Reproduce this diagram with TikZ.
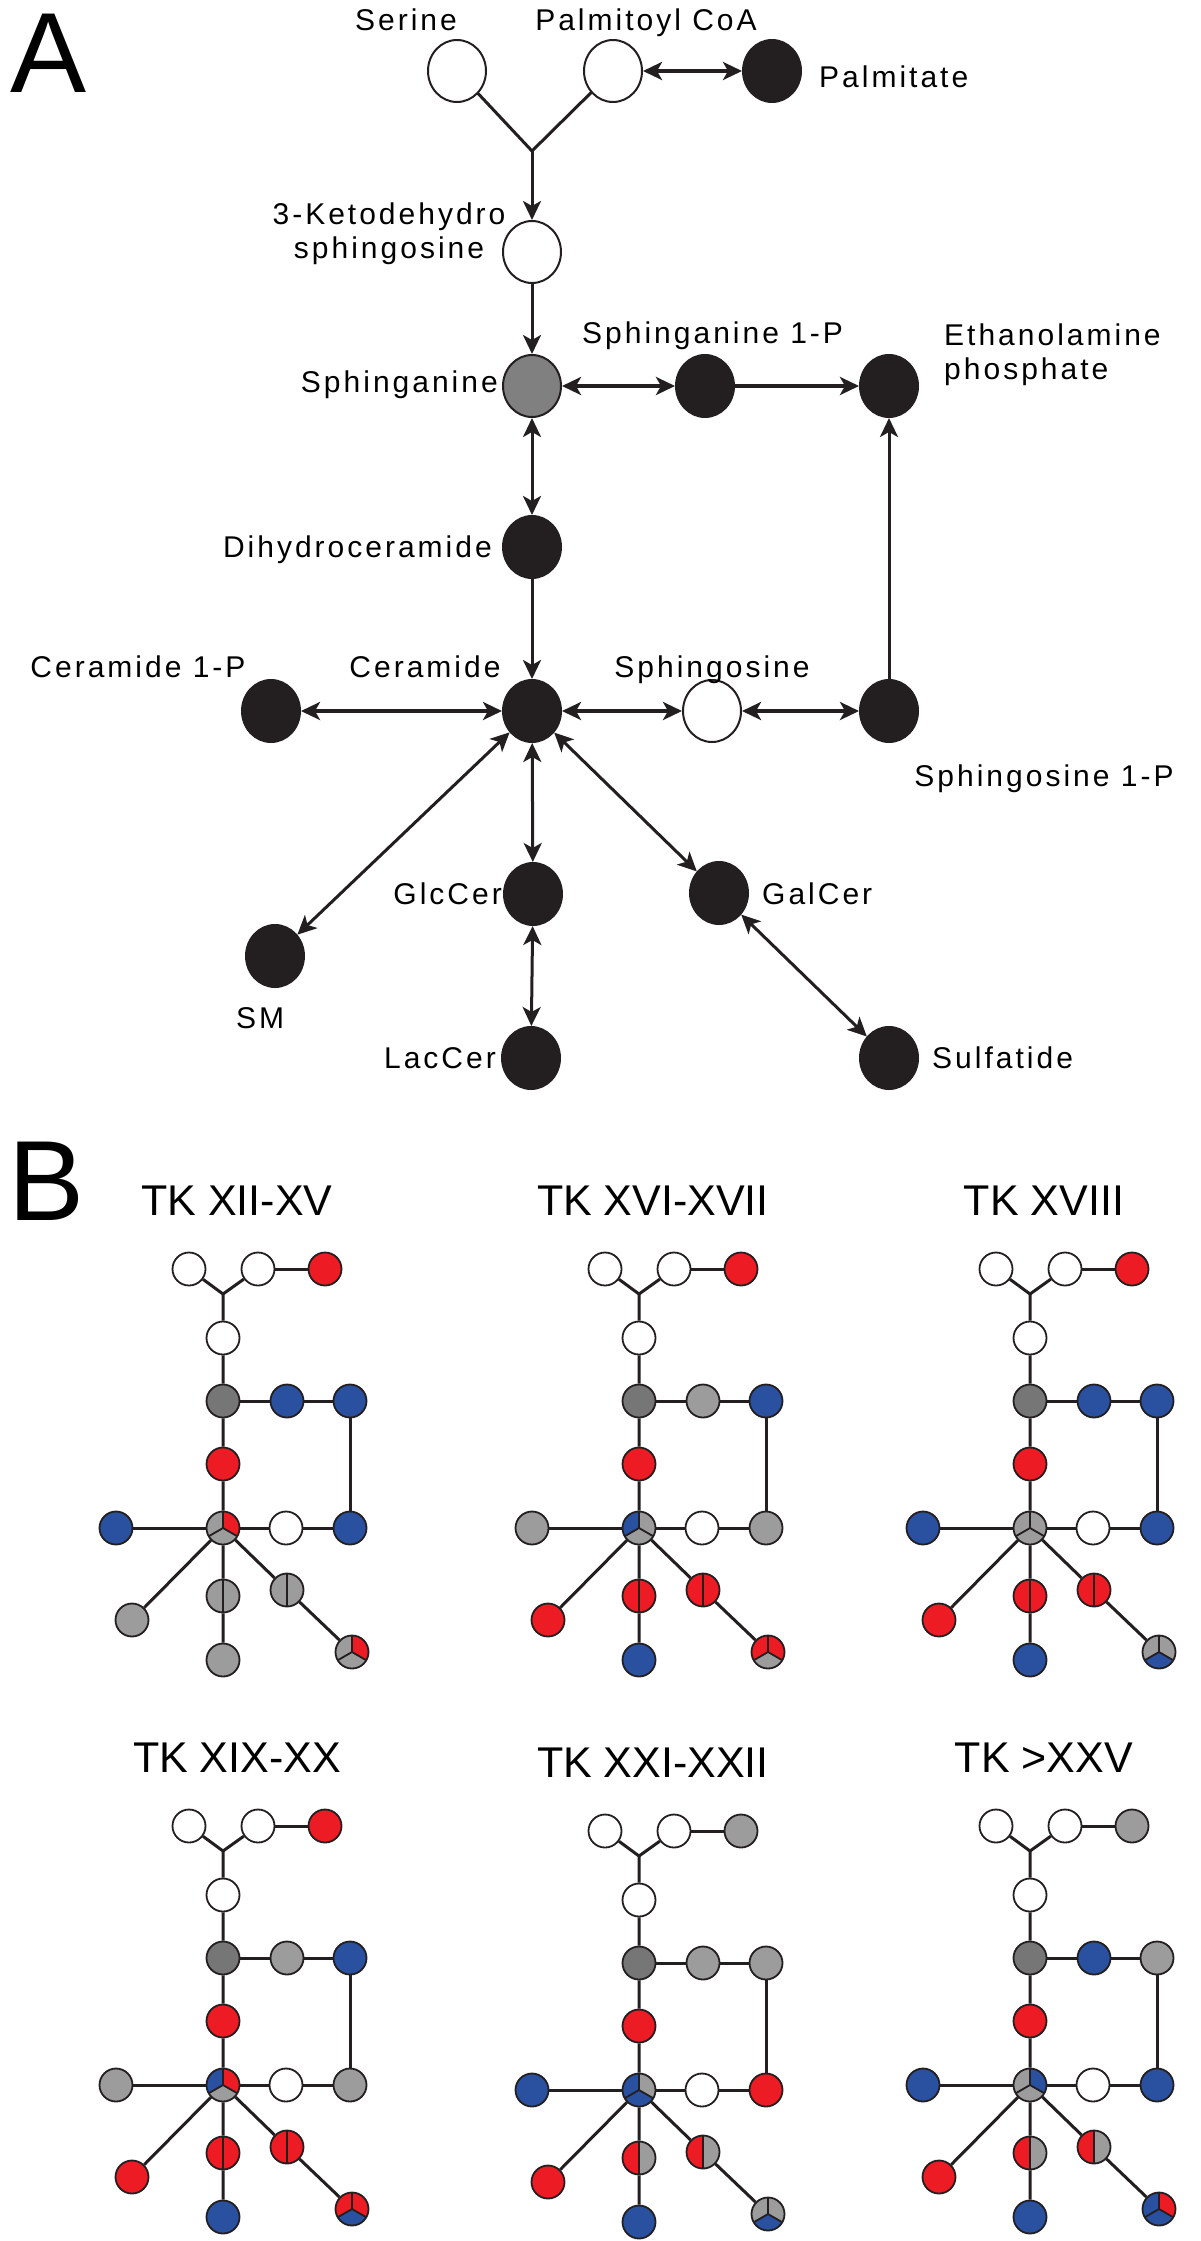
\documentclass[tikz,border=0pt]{standalone}
\usepackage{fontspec}
\setmainfont{Liberation Sans}
\newfontfamily\labelfont[LetterSpace=10]{Liberation Sans}
\usetikzlibrary{arrows.meta,shapes.geometric,backgrounds,positioning}
\definecolor{ink}{RGB}{35,31,32}
\definecolor{midgray}{RGB}{128,128,128}
\definecolor{rd}{RGB}{237,28,36}
\definecolor{bl}{RGB}{42,80,160}
\definecolor{gy}{RGB}{156,156,156}
\definecolor{dg}{RGB}{118,118,118}
\definecolor{wt}{RGB}{255,255,255}

\begin{document}
\begin{tikzpicture}[line cap=round,line join=round,>={Stealth[length=19pt,width=18pt,inset=5pt]},x=1pt,y=-1pt,
    met/.style={ellipse,draw=ink,line width=2pt,minimum width=58pt,minimum height=62pt,inner sep=0pt},
    lab/.style={font=\labelfont\fontsize{30}{34}\selectfont,inner sep=0pt},
    rxn/.style={ink,line width=3pt},
    rxnbold/.style={ink,line width=3.6pt},
    ball/.style={circle,draw=ink,line width=1.8pt,minimum size=33pt,inner sep=0pt},
    spot/.style={ball,fill=#1},
    tri/.style n args={3}{fill=#3,path picture={
        \begin{scope}[shift={(path picture bounding box.center)}]
        \fill[#1] (0pt,0pt) -- (90:30pt) -- (150:60pt) -- (210:30pt) -- cycle;
        \fill[#2] (0pt,0pt) -- (90:30pt) -- (30:60pt) -- (-30:30pt) -- cycle;
        \draw[ink,line width=1.8pt] (0pt,0pt) -- (90:30pt) (0pt,0pt) -- (210:30pt) (0pt,0pt) -- (-30:30pt);
        \end{scope}}},
    half/.style 2 args={fill=#2,path picture={
        \begin{scope}[shift={(path picture bounding box.center)}]
        \fill[#1] (-30pt,-30pt) rectangle (0pt,30pt);
        \draw[ink,line width=1.8pt] (0pt,-30pt) -- (0pt,30pt);
        \end{scope}}},
    link/.style={ink,line width=3pt},
    ttl/.style={font=\fontsize{43}{50}\selectfont,inner sep=0pt}]
\useasboundingbox (0,0) rectangle (1200,2241);

% panel letters
\node[font=\fontsize{114}{120}\selectfont,anchor=base west,inner sep=0pt] (pa) at (10,92) {A};
\node[font=\fontsize{114}{120}\selectfont,anchor=base west,inner sep=0pt] (pb) at (8,1220) {B};

% A: pathway
\node[met,fill=white] (ser) at (457,71) {};
\node[met,fill=white] (pal) at (613,71) {};
\node[met,fill=ink] (palm) at (772,71) {};
\coordinate (jn) at (532,151);
\node[met,fill=white] (keto) at (532,252) {};
\node[met,fill=midgray] (sph) at (532,386) {};
\node[met,fill=ink] (sph1p) at (705,386) {};
\node[met,fill=ink] (etp) at (889,386) {};
\node[met,fill=ink] (dhc) at (532,547) {};
\node[met,fill=ink] (cer) at (532,711) {};
\node[met,fill=ink] (cer1p) at (271,711) {};
\node[met,fill=white] (sgo) at (712,711) {};
\node[met,fill=ink] (s1p) at (889,711) {};
\node[met,fill=ink] (glc) at (533,894) {};
\node[met,fill=ink] (gal) at (719,893) {};
\node[met,fill=ink] (sm) at (275,956) {};
\node[met,fill=ink] (lac) at (531,1058) {};
\node[met,fill=ink] (sulf) at (889,1058) {};

\node[lab,anchor=base] (serl) at (406,30) {Serine};
\node[lab,anchor=base] (pall) at (646,30) {Palmitoyl CoA};
\node[lab,anchor=base west] (palml) at (819,87) {Palmitate};
\node[lab,anchor=north,align=center] (ketol) at (389,203) {3-Ketodehydro\\sphingosine};
\node[lab,anchor=base east] (sphl) at (498,392) {Sphinganine};
\node[lab,anchor=base west] (sph1pl) at (582,343) {Sphinganine 1-P};
\node[lab,anchor=north west,align=left] (etpl) at (944,324) {Ethanolamine\\phosphate};
\node[lab,anchor=base east] (dhcl) at (492,557) {Dihydroceramide};
\node[lab,anchor=base] (cer1pl) at (138,677) {Ceramide 1-P};
\node[lab,anchor=base] (cerl) at (425,677) {Ceramide};
\node[lab,anchor=base] (sgol) at (712,677) {Sphingosine};
\node[lab,anchor=base] (s1pl) at (1044,786) {Sphingosine 1-P};
\node[lab,anchor=base east] (glcl) at (502,904) {GlcCer};
\node[lab,anchor=base west] (gall) at (762,904) {GalCer};
\node[lab,anchor=base] (sml) at (260,1028) {SM};
\node[lab,anchor=base east] (lacl) at (496,1068) {LacCer};
\node[lab,anchor=base west] (sulfl) at (932,1068) {Sulfatide};

\draw[rxn] (ser) -- (jn);
\draw[rxn] (pal) -- (jn);
\draw[rxn,->] (jn) -- (keto);
\draw[rxnbold,<->] (pal) -- (palm);
\draw[rxn,->] (keto) -- (sph);
\draw[rxnbold,<->] (sph) -- (sph1p);
\draw[rxnbold,->] (sph1p) -- (etp);
\draw[rxn,->] (s1p) -- (etp);
\draw[rxn,<->] (sph) -- (dhc);
\draw[rxn,->] (dhc) -- (cer);
\draw[rxnbold,<->] (cer1p) -- (cer);
\draw[rxnbold,<->] (cer) -- (sgo);
\draw[rxnbold,<->] (sgo) -- (s1p);
\draw[rxn,<->] (cer) -- (sm);
\draw[rxn,<->] (cer) -- (glc);
\draw[rxn,<->] (cer) -- (gal);
\draw[rxn,<->] (glc) -- (lac);
\draw[rxn,<->] (gal) -- (sulf);

% B: one small map per stage
\foreach \px/\py/\ttl/\pa/\sa/\ea/\ca/\sq/\sm/\la/\cu/\cv/\cw/\gl/\gr/\al/\ar/\su/\sv/\sw [count=\k] in {
    223/1528/{TK XII-XV}/rd/bl/bl/bl/bl/gy/gy/gy/rd/gy/gy/gy/gy/gy/gy/rd/gy,
    639/1528/{TK XVI-XVII}/rd/gy/bl/gy/gy/rd/bl/bl/gy/gy/rd/rd/rd/rd/rd/rd/gy,
    1030/1528/{TK XVIII}/rd/bl/bl/bl/bl/rd/bl/gy/gy/gy/rd/rd/rd/rd/gy/gy/bl,
    223/2085/{TK XIX-XX}/rd/gy/bl/gy/gy/rd/bl/bl/rd/gy/rd/rd/rd/rd/rd/rd/bl,
    639/2090/{TK XXI-XXII}/gy/gy/gy/bl/rd/rd/bl/bl/gy/bl/rd/gy/rd/gy/gy/gy/bl,
    1030/2085/{TK >XXV}/gy/bl/gy/bl/bl/rd/bl/gy/bl/gy/rd/gy/rd/gy/bl/rd/bl}
{
  \begin{scope}[shift={(\px,\py)},name prefix=k\k-]
    \node[ttl,anchor=base] (t) at (14,-313) {\ttl};
    \node[spot=wt] (ser) at (-34,-259) {};
    \node[spot=wt] (pal) at (35,-259) {};
    \node[spot=\pa] (palm) at (102,-259) {};
    \coordinate (jn) at (0,-234);
    \node[spot=wt] (keto) at (0,-190) {};
    \node[spot=dg] (sph) at (0,-127) {};
    \node[spot=\sa] (sph1p) at (64,-127) {};
    \node[spot=\ea] (etp) at (127,-127) {};
    \node[spot=rd] (dhc) at (0,-64) {};
    \node[ball,tri={\cu}{\cv}{\cw}] (cer) at (0,0) {};
    \node[spot=\ca] (cer1p) at (-107,0) {};
    \node[spot=wt] (sgo) at (63,0) {};
    \node[spot=\sq] (s1p) at (127,0) {};
    \node[ball,half={\gl}{\gr}] (glc) at (0,68) {};
    \node[ball,half={\al}{\ar}] (gal) at (64,62) {};
    \node[spot=\sm] (sm) at (-91,92) {};
    \node[spot=\la] (lac) at (0,132) {};
    \node[ball,tri={\su}{\sv}{\sw}] (sulf) at (129,124) {};
    \begin{scope}[on background layer]
      \draw[link] (ser) -- (jn) -- (keto) -- (sph) -- (dhc) -- (cer) -- (glc) -- (lac);
      \draw[link] (pal) -- (jn);
      \draw[link] (pal) -- (palm);
      \draw[link] (sph) -- (sph1p) -- (etp) -- (s1p) -- (sgo) -- (cer) -- (cer1p);
      \draw[link] (cer) -- (sm);
      \draw[link] (cer) -- (gal) -- (sulf);
    \end{scope}
  \end{scope}
}
\end{tikzpicture}
\end{document}
